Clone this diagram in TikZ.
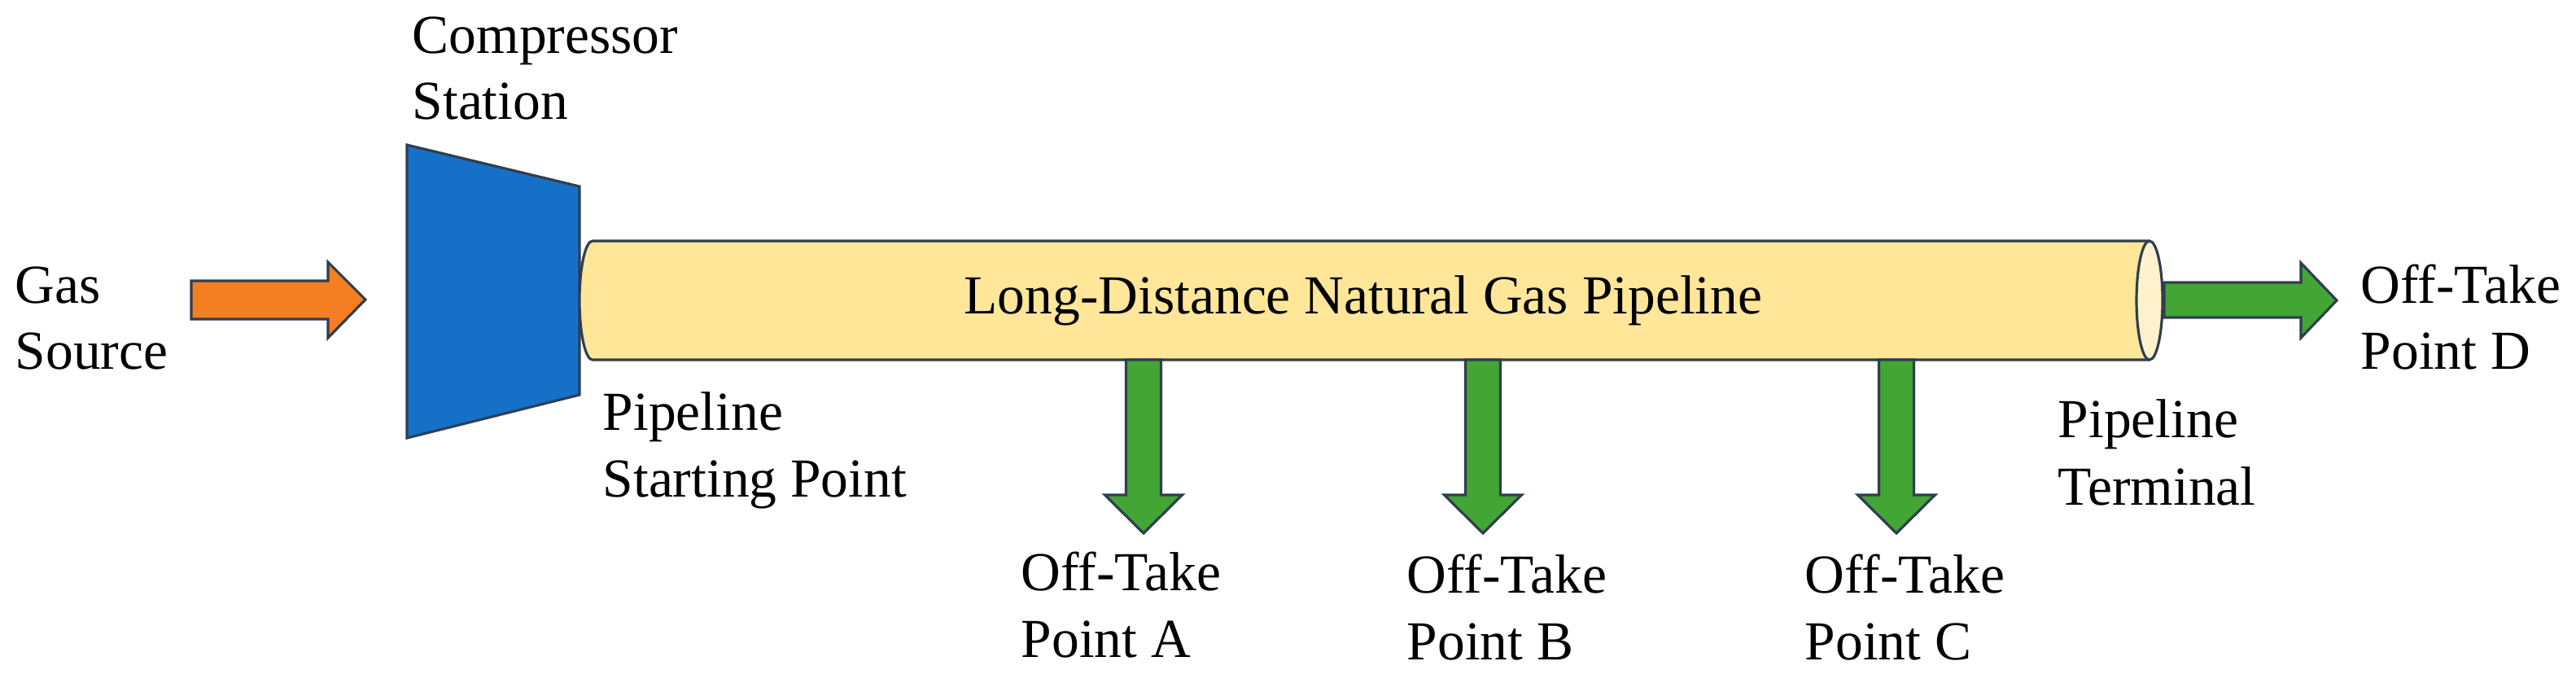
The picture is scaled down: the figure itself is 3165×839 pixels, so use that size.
\documentclass[tikz,border=0pt]{standalone}
\usepackage{fontspec}
\setmainfont{Liberation Serif}
\definecolor{edge}{HTML}{2F3E50}
\definecolor{orangeF}{HTML}{F47F22}
\definecolor{blueF}{HTML}{1670C8}
\definecolor{pipeF}{HTML}{FFE699}
\definecolor{capF}{HTML}{FFF2CC}
\definecolor{greenF}{HTML}{43A534}
\tikzset{
  lbl/.style={anchor=base west,inner sep=0pt,font=\fontsize{19.2}{23}\selectfont},
  shp/.style={draw=edge,line width=0.9pt,line join=miter},
}
\newcommand{\downarrowshape}[2]{% #1 name, #2 centre x
  \draw[shp,fill=greenF] (#2-21.5,442) -- (#2+21.5,442) -- (#2+21.5,608) -- (#2+47.5,608)
     -- (#2,655) -- (#2-47.5,608) -- (#2-21.5,608) -- cycle;
  \coordinate (#1) at (#2,655);
}
\begin{document}
\begin{tikzpicture}[x=0.01cm,y=-0.01cm]
\useasboundingbox (0,0) rectangle (3165,839);
% gas source arrow
\draw[shp,fill=orangeF] (235,345) -- (403,345) -- (403,322) -- (449,368) -- (403,415) -- (403,392) -- (235,392) -- cycle;
% compressor
\draw[shp,fill=blueF] (500,178) -- (712,229) -- (712,485) -- (500,538) -- cycle;
% pipe
\draw[shp,fill=pipeF] (2641,296) -- (728,296) arc[start angle=-90,end angle=-270,x radius=16,y radius=73] -- (2641,442);
\draw[shp,fill=capF] (2641,369) ellipse[x radius=16,y radius=73];
\node[anchor=center,inner sep=0pt,font=\fontsize{19.2}{23}\selectfont] (pipe) at (1675,369) {Long-Distance Natural Gas Pipeline};
% outlet D
\draw[shp,fill=greenF] (2659,347) -- (2827,347) -- (2827,323) -- (2871,369) -- (2827,415) -- (2827,390) -- (2659,390) -- cycle;
% down arrows
\downarrowshape{tipA}{1405}
\downarrowshape{tipB}{1822}
\downarrowshape{tipC}{2330}
% labels
\node[lbl] (gas1) at (18,372) {Gas};
\node[lbl] (gas2) at (18,453) {Source};
\node[lbl] (cs1) at (506,65) {Compressor};
\node[lbl] (cs2) at (506,146) {Station};
\node[lbl] (ps1) at (740,528) {Pipeline};
\node[lbl] (ps2) at (740,610) {Starting Point};
\node[lbl] (pt1) at (2528,537) {Pipeline};
\node[lbl] (pt2) at (2528,620) {Terminal};
\node[lbl] (d1) at (2900,372) {Off-Take};
\node[lbl] (d2) at (2900,453) {Point D};
\node[lbl] (a1) at (1254,725) {Off-Take};
\node[lbl] (a2) at (1254,807) {Point A};
\node[lbl] (b1) at (1728,728) {Off-Take};
\node[lbl] (b2) at (1728,810) {Point B};
\node[lbl] (c1) at (2217,728) {Off-Take};
\node[lbl] (c2) at (2217,810) {Point C};
\end{tikzpicture}
\end{document}
